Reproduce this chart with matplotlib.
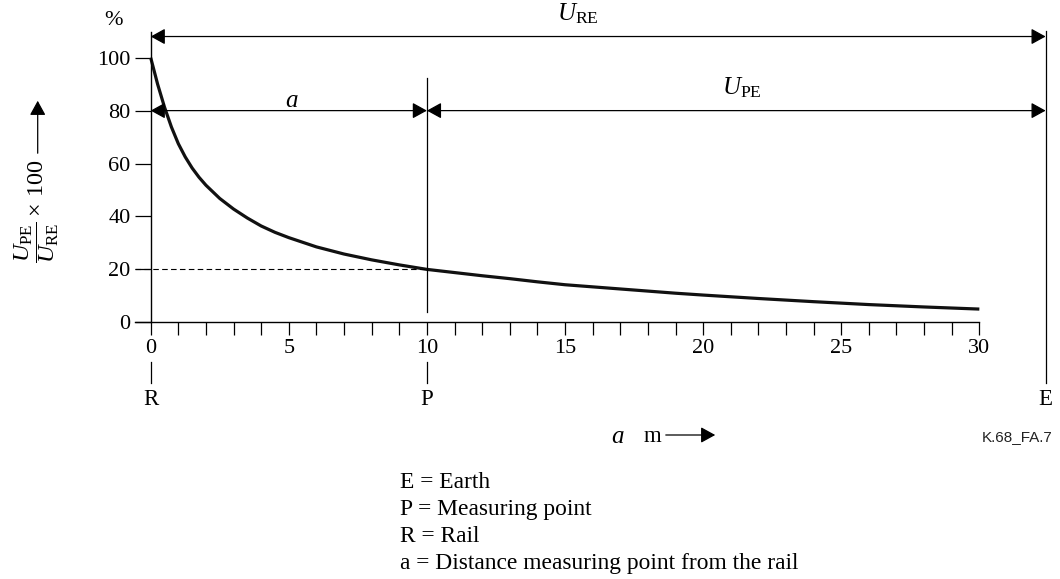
import numpy as np
import matplotlib
matplotlib.use('Agg')
import matplotlib.pyplot as plt

plt.rcParams['font.family'] = ['Liberation Serif', 'DejaVu Serif']
plt.rcParams['mathtext.fontset'] = 'custom'
plt.rcParams['mathtext.rm'] = 'Liberation Serif'
plt.rcParams['mathtext.it'] = 'Liberation Serif:italic'
plt.rcParams['font.size'] = 16

# curve: distance a (m) vs U_PE/U_RE x 100 (%)
a_vals = [0, 0.25, 0.5, 0.75, 1, 1.25, 1.5, 1.75, 2, 2.5, 3, 3.5, 4, 4.5, 5, 6, 7, 8, 9, 10,
          11, 12, 13, 14, 15, 16, 17, 18, 19, 20, 22, 24, 26, 28, 30]
pct_vals = [100, 90, 81.3, 73.8, 67.5, 62.5, 58.3, 54.8, 51.8, 46.8, 42.8, 39.4, 36.4, 34, 32,
            28.5, 25.8, 23.6, 21.7, 20,
            18.8, 17.6, 16.5, 15.3, 14.2, 13.4, 12.6, 11.8, 11, 10.3, 9.0, 7.8, 6.7, 5.8, 5]

x_ticks = list(range(0, 31))
x_labels = [str(v) if v % 5 == 0 else '' for v in x_ticks]
y_ticks = [0, 20, 40, 60, 80, 100]

p_pos = 10      # measuring point
e_pos = 32.4    # earth
top_y = 108     # U_RE arrow level
arrow_y = 80    # a / U_PE arrow level

fig = plt.figure(figsize=(10.6, 5.79), dpi=100)
ax = fig.add_axes([0, 0, 1, 1])
ax.set_xlim(-5.456, 32.92)
ax.set_ylim(-97.0, 121.8)

for s in ['top', 'right']:
    ax.spines[s].set_visible(False)
ax.spines['bottom'].set_position(('data', 0))
ax.spines['left'].set_position(('data', 0))
ax.spines['bottom'].set_bounds(-0.57, 30)
ax.spines['left'].set_bounds(0, 109.8)
ax.spines['bottom'].set_linewidth(1.0)
ax.spines['left'].set_linewidth(1.0)

ax.set_xticks(x_ticks)
ax.set_xticklabels(x_labels)
ax.set_yticks(y_ticks)
ax.tick_params(axis='x', direction='out', length=9, width=0.9, pad=3)
ax.tick_params(axis='y', direction='out', length=11.5, width=0.9, pad=3)

# the curve
ax.plot(a_vals, pct_vals, color='#111111', lw=2.3, solid_capstyle='butt',
        solid_joinstyle='round', clip_on=False)

# dashed line at 20 %
ax.plot([-0.57, p_pos], [20, 20], color='black', lw=0.8, ls=(0, (5, 3)))

# vertical line at P and E
ax.plot([p_pos, p_pos], [3.8, 92.2], color='black', lw=0.9)
ax.plot([e_pos, e_pos], [-22.9, 110], color='black', lw=0.9, clip_on=False)

# small markers under the axis at R and P
for xv in [0, p_pos]:
    ax.plot([xv, xv], [-14.9, -22.9], color='black', lw=0.9, clip_on=False)

for xv, lab in [(0, 'R'), (p_pos, 'P'), (e_pos, 'E')]:
    ax.text(xv, -29, lab, ha='center', va='center', fontsize=16.5)

# dimension arrows
arr = dict(arrowstyle='<|-|>,head_length=0.4,head_width=0.22', color='black',
           lw=0.9, shrinkA=0, shrinkB=0, mutation_scale=22)
ax.annotate('', xy=(e_pos, top_y), xytext=(0, top_y), arrowprops=arr)
ax.annotate('', xy=(p_pos, arrow_y), xytext=(0, arrow_y), arrowprops=arr)
ax.annotate('', xy=(e_pos, arrow_y), xytext=(p_pos, arrow_y), arrowprops=arr)

ax.text(15.45, 116.5, r'$U_{\mathrm{RE}}$', ha='center', va='center', fontsize=18)
ax.text(21.4, 88.8, r'$U_{\mathrm{PE}}$', ha='center', va='center', fontsize=18)
ax.text(5.1, 83.5, r'$a$', ha='center', va='center', fontsize=18)
ax.text(-1.36, 114.2, '%', ha='center', va='center')

# y axis title with arrow
fig.text(37 / 1060, 1 - 211 / 579, r'$\dfrac{U_{\mathrm{PE}}}{U_{\mathrm{RE}}}\times\,100$',
         rotation=90, ha='center', va='center', fontsize=17.5)
fig.patches.append(matplotlib.patches.FancyArrowPatch(
    (37.7 / 1060, 1 - 156 / 579), (37.7 / 1060, 1 - 98 / 579),
    transform=fig.transFigure, arrowstyle='-|>,head_length=0.4,head_width=0.22',
    mutation_scale=22, color='black', lw=0.9))

# x axis title with arrow
fig.text(618 / 1060, 1 - 437 / 579, r'$a$', ha='center', va='center', fontsize=18)
fig.text(652 / 1060, 1 - 437 / 579, 'm', ha='center', va='center', fontsize=16.5)
fig.patches.append(matplotlib.patches.FancyArrowPatch(
    (663 / 1060, 1 - 435 / 579), (718 / 1060, 1 - 435 / 579),
    transform=fig.transFigure, arrowstyle='-|>,head_length=0.4,head_width=0.22',
    mutation_scale=22, color='black', lw=0.9))

fig.text(1017 / 1060, 1 - 437 / 579, 'K.68_FA.7', ha='center', va='center',
         fontsize=11, family='Liberation Sans', color='#222222')

legend_lines = ['E = Earth', 'P = Measuring point', 'R = Rail',
                'a = Distance measuring point from the rail']
for i, line in enumerate(legend_lines):
    fig.text(400 / 1060, 1 - (483 + 26.7 * i) / 579, line, ha='left', va='center',
             fontsize=16.9)

fig.savefig('out.png', dpi=100)
